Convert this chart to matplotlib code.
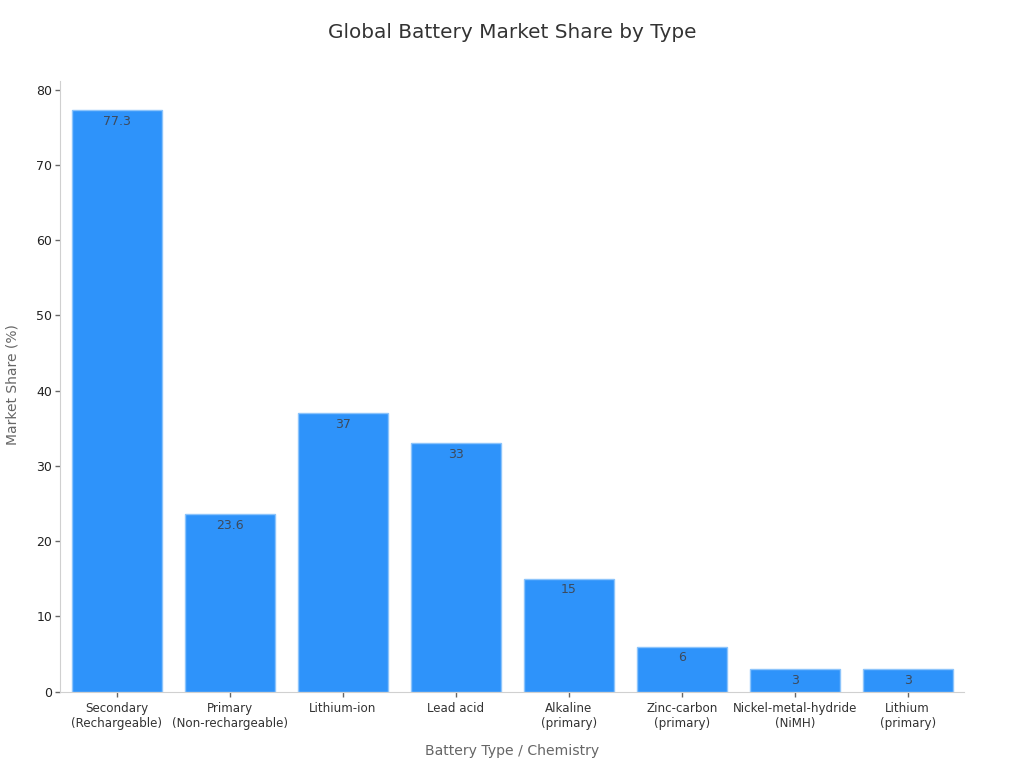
import matplotlib
matplotlib.use("Agg")
import matplotlib.pyplot as plt

# data
categories = ["Secondary\n(Rechargeable)", "Primary\n(Non-rechargeable)", "Lithium-ion", "Lead acid",
              "Alkaline\n(primary)", "Zinc-carbon\n(primary)", "Nickel-metal-hydride\n(NiMH)", "Lithium\n(primary)"]
share = [77.3, 23.6, 37, 33, 15, 6, 3, 3]
share_labels = ["77.3", "23.6", "37", "33", "15", "6", "3", "3"]
y_ticks = [0, 10, 20, 30, 40, 50, 60, 70, 80]

plt.rcParams["font.family"] = "DejaVu Sans"

fig = plt.figure(figsize=(10.24, 7.68), dpi=100)
ax = fig.add_axes([60.2 / 1024, 1 - 691.7 / 768, 904 / 1024, 611 / 768])

x = range(len(categories))
ax.bar(x, share, width=0.796, color="#2E93FA", edgecolor="#8CC4FB", linewidth=1)

for i, v in enumerate(share):
    ax.annotate(share_labels[i], (i, v), xytext=(0, -11), textcoords="offset pixels",
                ha="center", va="center", fontsize=9, color="#3D4A5C")

ax.set_xlim(-0.5, 7.5)
ax.set_ylim(0, 81.2)
ax.set_xticks(list(x))
ax.set_xticklabels(categories, fontsize=8.6, color="#333333", linespacing=1.25)
ax.set_yticks(y_ticks)
ax.tick_params(axis="y", labelsize=9, labelcolor="#222222", length=3.6, width=1, color="#666666", pad=2)
ax.tick_params(axis="x", length=3.6, width=1, color="#666666", pad=3.5)

for side in ["top", "right"]:
    ax.spines[side].set_visible(False)
for side in ["left", "bottom"]:
    ax.spines[side].set_color("#D0D0D0")

ax.set_xlabel("Battery Type / Chemistry", fontsize=10.1, color="#666666")
ax.xaxis.set_label_coords(0.5, -0.085)
ax.set_ylabel("Market Share (%)", fontsize=10, color="#666666")
ax.yaxis.set_label_coords(-0.045, 0.502)

fig.text(512 / 1024, 1 - 33 / 768, "Global Battery Market Share by Type", ha="center", va="center",
         fontsize=14.4, color="#333333")

fig.savefig("out.png", dpi=100)
